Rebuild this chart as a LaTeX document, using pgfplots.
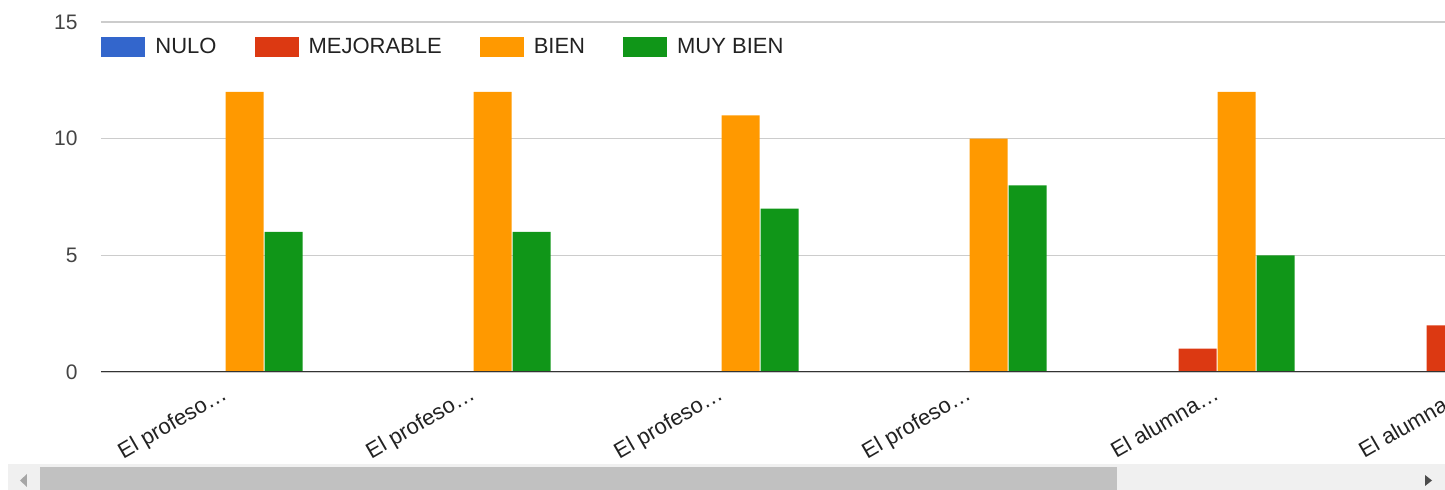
\documentclass[border=0pt]{standalone}
\usepackage{fontspec}
\setmainfont{Liberation Sans}
\usepackage{pgfplots}
\pgfplotsset{compat=1.18}

\definecolor{nulo}{HTML}{3366CC}
\definecolor{mejorable}{HTML}{DC3912}
\definecolor{bien}{HTML}{FF9900}
\definecolor{muybien}{HTML}{109618}
\definecolor{gridgray}{HTML}{CCCCCC}
\definecolor{basegray}{HTML}{333333}
\definecolor{txt}{HTML}{222222}
\definecolor{ticktxt}{HTML}{444444}
\definecolor{scrollbg}{HTML}{F0F0F0}
\definecolor{thumb}{HTML}{C1C1C1}

\begin{document}
\begin{tikzpicture}
\begin{axis}[
    name=ax,
    scale only axis,
    width=744pt, height=175pt,
    xmin=-0.5, xmax=5.5,
    ymin=0, ymax=15,
    ytick={0,5,10,15},
    xtick={0,1,2,3,4,5},
    xticklabels={El profeso…,El profeso…,El profeso…,El profeso…,El alumna…,El alumna…},
    axis line style={draw=none},
    tick style={draw=none},
    ymajorgrids,
    grid style={gridgray, line width=0.6pt},
    /pgf/number format/assume math mode=true,
    yticklabel style={font=\fontsize{10.5}{12}\selectfont, text=ticktxt, anchor=east, inner sep=0pt, xshift=-11.5pt},
    xticklabel style={font=\fontsize{11}{13}\selectfont, text=txt, rotate=30, anchor=north east, inner sep=0pt, xshift=-3pt, yshift=-0.5pt},
    ybar, bar width=19pt,
    legend columns=-1,
    legend style={at={(0,0.9286)}, anchor=west, draw=none, fill=none,
        font=\fontsize{11}{13}\selectfont, text=txt, inner sep=0pt,
        nodes={inner sep=0pt},
        /tikz/every odd column/.append style={column sep=5pt},
        /tikz/every even column/.append style={column sep=19pt}},
]
\addplot[fill=nulo, draw=none, bar shift=-29.25pt,
    legend image code/.code={\fill[nulo] (0.5pt,-5pt) rectangle (22.5pt,5pt);}]
    coordinates {(0,0) (1,0) (2,0) (3,0) (4,0) (5,0)};
\addplot[fill=mejorable, draw=none, bar shift=-9.75pt,
    legend image code/.code={\fill[mejorable] (0.5pt,-5pt) rectangle (22.5pt,5pt);}]
    coordinates {(0,0) (1,0) (2,0) (3,0) (4,1) (5,2)};
\addplot[fill=bien, draw=none, bar shift=9.75pt,
    legend image code/.code={\fill[bien] (0.5pt,-5pt) rectangle (22.5pt,5pt);}]
    coordinates {(0,12) (1,12) (2,11) (3,10) (4,12)};
\addplot[fill=muybien, draw=none, bar shift=29.25pt,
    legend image code/.code={\fill[muybien] (0.5pt,-5pt) rectangle (22.5pt,5pt);}]
    coordinates {(0,6) (1,6) (2,7) (3,8) (4,5)};
\legend{NULO, MEJORABLE, BIEN, MUY BIEN}
\draw[basegray, line width=1pt] (axis cs:-0.5,0) -- (axis cs:5.5,0);
\end{axis}

% scrollbar and page frame, in pixels from the page's lower left corner
\begin{scope}[shift={([xshift=-50.5pt,yshift=-59pt]ax.south west)}, x=0.5pt, y=0.5pt]
\fill[scrollbg] (8,0) rectangle (1445,26);
\fill[thumb] (40,0) rectangle (1117,22.5);
\fill[gray!70] (27,16) -- (27,3) -- (20,9.5) -- cycle;
\fill[black!70] (1425,15) -- (1425,4) -- (1432,9.5) -- cycle;
\pgfresetboundingbox
\path[use as bounding box] (0,0) rectangle (1445,490);
\end{scope}
\end{tikzpicture}
\end{document}
